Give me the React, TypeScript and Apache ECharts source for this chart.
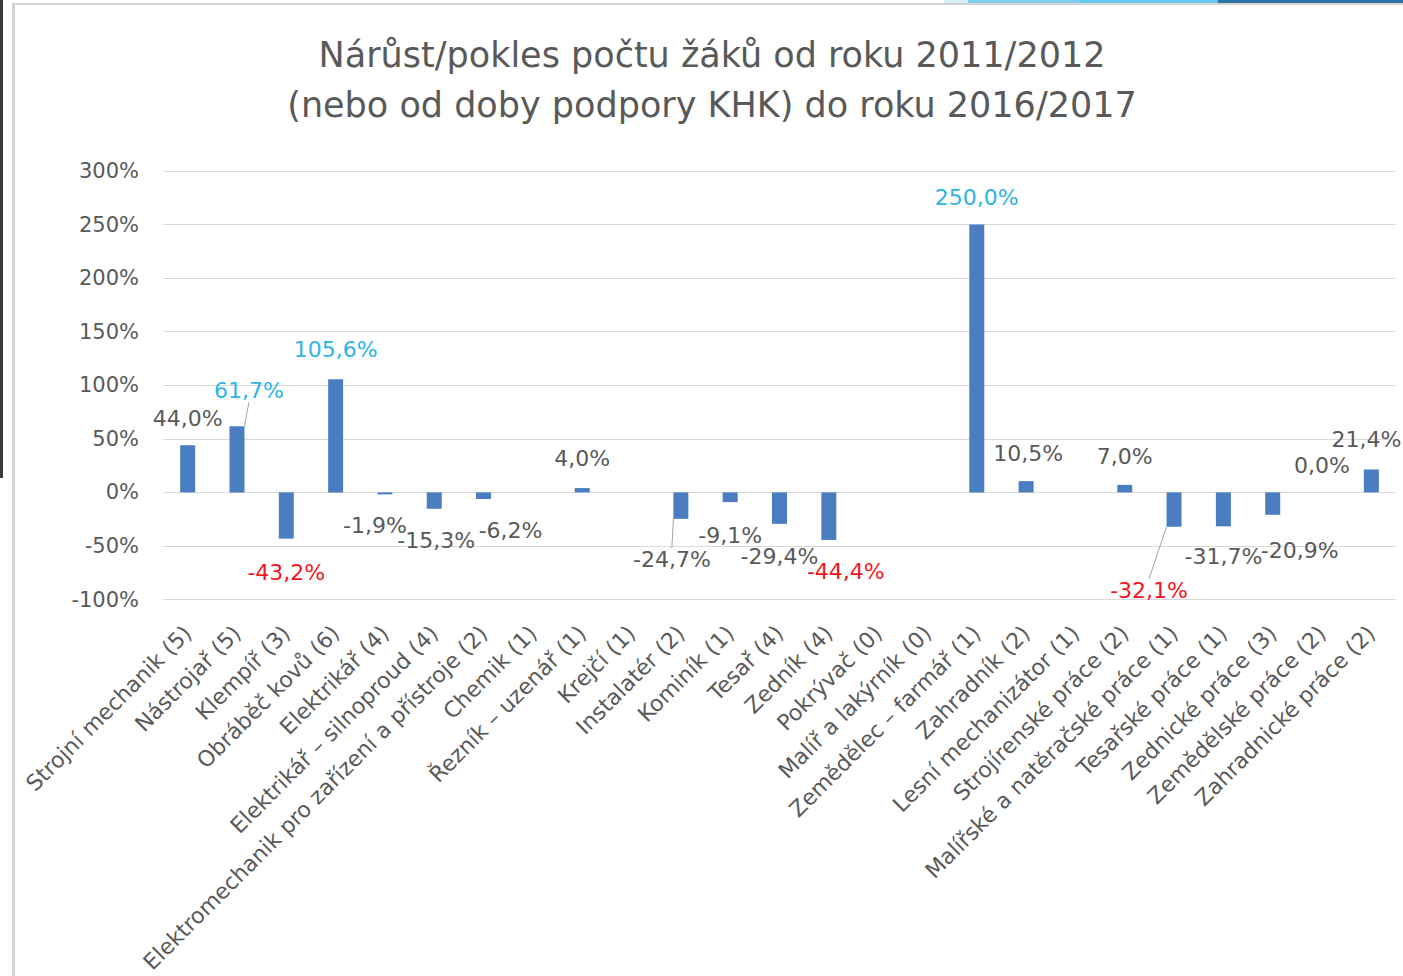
import React, { useEffect, useRef } from "react";
import * as echarts from "echarts";

const categories = [
  "Strojní mechanik (5)",
  "Nástrojař (5)",
  "Klempíř (3)",
  "Obráběč kovů (6)",
  "Elektrikář (4)",
  "Elektrikář – silnoproud (4)",
  "Elektromechanik pro zařízení a přístroje (2)",
  "Chemik (1)",
  "Řezník – uzenář (1)",
  "Krejčí (1)",
  "Instalatér (2)",
  "Kominík (1)",
  "Tesař (4)",
  "Zedník (4)",
  "Pokrývač (0)",
  "Malíř a lakýrník (0)",
  "Zemědělec – farmář (1)",
  "Zahradník (2)",
  "Lesní mechanizátor (1)",
  "Strojírenské práce (2)",
  "Malířské a natěračské práce (1)",
  "Tesařské práce (1)",
  "Zednické práce (3)",
  "Zemědělské práce (2)",
  "Zahradnické práce (2)",
];

const changePct: (number | null)[] = [
  44.0, 61.7, -43.2, 105.6, -1.9, -15.3, -6.2, null, 4.0, null, -24.7, -9.1,
  -29.4, -44.4, null, null, 250.0, 10.5, null, 7.0, -32.1, -31.7, -20.9, 0.0,
  21.4,
];

// label highlight: "up" = cyan, "down" = red, "" = default grey
const highlight = [
  "", "up", "down", "up", "", "", "", "", "", "", "", "", "", "down", "", "",
  "up", "", "", "", "down", "", "", "", "",
];

const yTicks = { min: -100, max: 300, interval: 50 };

const title = "Nárůst/pokles počtu žáků od roku 2011/2012\n(nebo od doby podpory KHK) do roku 2016/2017";

// label nudges (style only)
const labelShift: ([number, number] | null)[] = [
  [0, 3], [12, -6], [0, 4], [0, 0], [-10, 1], [2, 2], [27, 1], null, [0, 0], null,
  [-9, 11], [0, 3], [0, 3], [17, 2], null, null, [0, 3], [2, 2], null, [0, 2],
  [-25, 34], [0, 0], [27, 6], [0, 3], [-5, 0],
];
const withGuide = [1, 10, 20];

const FONT = '"DejaVu Sans", sans-serif';
const GREY = "#595959";
const CYAN = "#2fb4e6";
const RED = "#f5141e";
const BAR = "#4a7ec0";

export default function App() {
  const ref = useRef<HTMLDivElement>(null);

  useEffect(() => {
    if (!ref.current) return;
    const chart = echarts.init(ref.current, undefined, { renderer: "svg" });

    const data = changePct.map((v, i) => {
      if (v === null) return "-";
      return {
        value: v,
        label: {
          position: v < 0 ? "bottom" : "top",
          color: highlight[i] === "up" ? CYAN : highlight[i] === "down" ? RED : GREY,
        },
        labelLine: withGuide.includes(i)
          ? { show: true, lineStyle: { color: "#a6a6a6", width: 1 } }
          : { show: false },
      };
    });

    chart.setOption({
      animation: false,
      backgroundColor: "#ffffff",
      graphic: [
        { type: "rect", shape: { x: 0, y: 0, width: 3, height: 478 }, style: { fill: "#3a3a3a" }, silent: true },
        { type: "rect", shape: { x: 12, y: 3, width: 3, height: 973 }, style: { fill: "#d4d4d4" }, silent: true },
        { type: "rect", shape: { x: 12, y: 3, width: 1391, height: 2 }, style: { fill: "#d4d4d4" }, silent: true },
        { type: "rect", shape: { x: 944, y: 0, width: 24, height: 3 }, style: { fill: "#d8eef8" }, silent: true },
        { type: "rect", shape: { x: 968, y: 0, width: 111, height: 3 }, style: { fill: "#7fd0ee" }, silent: true },
        { type: "rect", shape: { x: 1079, y: 0, width: 139, height: 3 }, style: { fill: "#66c8ee" }, silent: true },
        { type: "rect", shape: { x: 1218, y: 0, width: 185, height: 3 }, style: { fill: "#2e72a8" }, silent: true },
        {
          type: "text",
          x: 712,
          y: 30,
          style: {
            text: title,
            fill: GREY,
            fontSize: 35,
            fontFamily: FONT,
            align: "center",
            verticalAlign: "top",
            lineHeight: 50,
          },
        },
      ],
      grid: { left: 163, right: 7, top: 171, bottom: 375, containLabel: false },
      xAxis: {
        type: "category",
        data: categories,
        axisLine: { show: false },
        axisTick: { show: false },
        axisLabel: {
          rotate: 45,
          interval: 0,
          margin: 30,
          color: GREY,
          fontSize: 22,
          fontFamily: FONT,
        },
      },
      yAxis: {
        type: "value",
        min: yTicks.min,
        max: yTicks.max,
        interval: yTicks.interval,
        axisLine: { show: false },
        axisTick: { show: false },
        splitLine: { lineStyle: { color: "#d9d9d9", width: 1 } },
        axisLabel: {
          formatter: "{value}%",
          margin: 24,
          color: GREY,
          fontSize: 21,
          fontFamily: FONT,
        },
      },
      series: [
        {
          type: "bar",
          data,
          barWidth: 15,
          itemStyle: { color: BAR },
          label: {
            show: true,
            distance: 18,
            fontSize: 22,
            lineHeight: 24,
            fontFamily: FONT,
            formatter: (p: any) => p.value.toFixed(1).replace(".", ",") + "%",
          },
          labelLayout: (p: any) => {
            const s = labelShift[p.dataIndex];
            if (!s) return {};
            return { dx: s[0], dy: s[1] };
          },
        },
      ],
    });

    return () => chart.dispose();
  }, []);

  return (
    <div
      ref={ref}
      style={{ position: "fixed", left: 0, top: 0, width: 1403, height: 976, background: "#fff" }}
    />
  );
}
